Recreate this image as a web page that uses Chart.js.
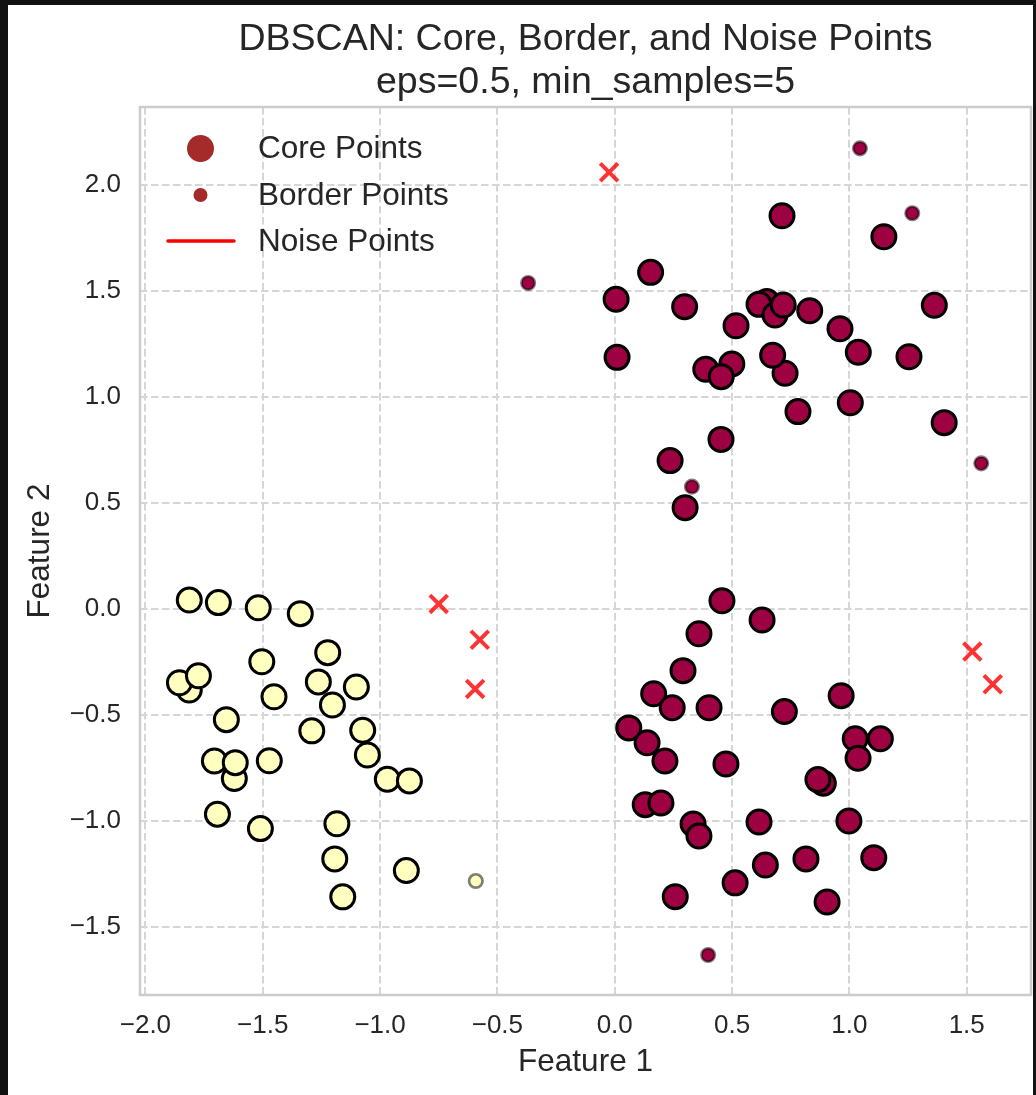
<!DOCTYPE html>
<html>
<head>
<meta charset="utf-8">
<script src="https://cdn.jsdelivr.net/npm/chart.js@4.4.1/dist/chart.umd.min.js"></script>
<style>
  html, body { margin: 0; padding: 0; background: #111; }
  #wrap { position: absolute; left: 0; top: 0; width: 1036px; height: 1095px; }
</style>
</head>
<body>
<div id="wrap"><canvas id="chart" width="1036" height="1095"></canvas></div>
<script>
// ---- data: DBSCAN result (Feature 1, Feature 2) ----
// cluster 0, core samples (upper and lower groups on the right)
const coreCluster0 = [
  [0.648, 1.450], [0.615, 1.437], [0.683, 1.387], [0.718, 1.434],
  [0.713, 1.855], [1.147, 1.756], [0.153, 1.588], [0.006, 1.461], [0.298, 1.426],
  [1.362, 1.433], [0.831, 1.407], [0.517, 1.336], [0.960, 1.322], [0.010, 1.187],
  [1.038, 1.211], [1.254, 1.190], [0.499, 1.156], [0.388, 1.131], [0.454, 1.096],
  [0.726, 1.112], [0.673, 1.197], [0.781, 0.931], [1.004, 0.973], [1.404, 0.879],
  [0.453, 0.800], [0.236, 0.700], [0.300, 0.478],
  [0.457, 0.039], [0.628, -0.052], [0.359, -0.117], [0.291, -0.291], [0.965, -0.409],
  [0.166, -0.400], [0.245, -0.466], [0.402, -0.466], [0.723, -0.484], [0.060, -0.561],
  [0.138, -0.631], [0.214, -0.717], [0.474, -0.731], [1.025, -0.612], [1.132, -0.612],
  [1.037, -0.704], [0.889, -0.822], [0.866, -0.805], [0.130, -0.923], [0.197, -0.915],
  [0.334, -1.014], [0.359, -1.071], [0.615, -1.005], [0.998, -1.000], [0.815, -1.179],
  [0.642, -1.208], [1.104, -1.173], [0.513, -1.292], [0.258, -1.357], [0.905, -1.382]
];
// cluster 0, border samples
const borderCluster0 = [
  [1.045, 2.173], [1.268, 1.867], [1.562, 0.687], [0.329, 0.577], [-0.369, 1.538], [0.398, -1.632]
];
// cluster 1, core samples (lower left)
const coreCluster1 = [
  [-1.813, 0.042], [-1.689, 0.030], [-1.519, 0.006], [-1.340, -0.022], [-1.223, -0.206],
  [-1.504, -0.249], [-1.813, -0.382], [-1.855, -0.348], [-1.774, -0.315], [-1.263, -0.344],
  [-1.101, -0.368], [-1.452, -0.414], [-1.203, -0.453], [-1.655, -0.522], [-1.291, -0.575],
  [-1.074, -0.572], [-1.054, -0.689], [-1.706, -0.717], [-1.621, -0.800], [-1.617, -0.725],
  [-1.472, -0.716], [-0.969, -0.803], [-0.875, -0.811], [-1.693, -0.968], [-1.510, -1.036],
  [-1.184, -1.013], [-1.193, -1.179], [-0.888, -1.234], [-1.159, -1.358]
];
// cluster 1, border samples
const borderCluster1 = [
  [-0.592, -1.283]
];
// noise samples (label -1)
const noisePoints = [
  [-0.024, 2.060], [-0.750, 0.024], [-0.575, -0.145], [-0.595, -0.377], [1.524, -0.201], [1.611, -0.355]
];

const xTickValues = [-2.0, -1.5, -1.0, -0.5, 0.0, 0.5, 1.0, 1.5];
const xTickLabels = ['\u22122.0', '\u22121.5', '\u22121.0', '\u22120.5', '0.0', '0.5', '1.0', '1.5'];
const yTickValues = [-1.5, -1.0, -0.5, 0.0, 0.5, 1.0, 1.5, 2.0];
const yTickLabels = ['\u22121.5', '\u22121.0', '\u22120.5', '0.0', '0.5', '1.0', '1.5', '2.0'];

const legendLabels = ['Core Points', 'Border Points', 'Noise Points'];
const titleLines = ['DBSCAN: Core, Border, and Noise Points', 'eps=0.5, min_samples=5'];

// ---- styling ----
const FONT = "'Liberation Sans', Arial, sans-serif";
const TEXT = '#262626';
const COLOR_C0 = '#9e0142';
const COLOR_C1 = '#ffffbf';
const NOISE = 'rgba(255, 0, 0, 0.8)';
const GRID = '#d6d6d6';
const SPINE = '#cccccc';

const toXY = arr => arr.map(([x, y]) => ({ x, y }));

// page background and white figure panel
const figurePanel = {
  id: 'figurePanel',
  beforeDraw(chart) {
    const { ctx, width, height } = chart;
    ctx.save();
    ctx.fillStyle = '#111111';
    ctx.fillRect(0, 0, width, height);
    ctx.fillStyle = '#ffffff';
    ctx.fillRect(8, 5, 1025, height - 5);
    ctx.restore();
  }
};

// axes frame (all four spines)
const spines = {
  id: 'spines',
  beforeDatasetsDraw(chart) {
    const { ctx, chartArea: a } = chart;
    ctx.save();
    ctx.strokeStyle = SPINE;
    ctx.lineWidth = 2.5;
    ctx.strokeRect(a.left, a.top, a.right - a.left, a.bottom - a.top);
    ctx.restore();
  }
};

// legend in the upper-left corner of the axes
const cornerLegend = {
  id: 'cornerLegend',
  afterDraw(chart) {
    const { ctx, chartArea: a } = chart;
    const mx = a.left + 60.5;
    const tx = a.left + 118;
    const rows = [a.top + 41.5, a.top + 88, a.top + 134];
    ctx.save();
    ctx.fillStyle = '#a52a2a';
    ctx.beginPath(); ctx.arc(mx, rows[0], 13.5, 0, Math.PI * 2); ctx.fill();
    ctx.beginPath(); ctx.arc(mx, rows[1], 7, 0, Math.PI * 2); ctx.fill();
    ctx.strokeStyle = '#ff0000';
    ctx.lineWidth = 3.5;
    ctx.lineCap = 'round';
    ctx.beginPath(); ctx.moveTo(a.left + 28, rows[2]); ctx.lineTo(a.left + 94, rows[2]); ctx.stroke();
    ctx.fillStyle = TEXT;
    ctx.font = '31.5px ' + FONT;
    ctx.textBaseline = 'middle';
    ctx.textAlign = 'left';
    legendLabels.forEach((t, i) => ctx.fillText(t, tx, rows[i] + 1));
    ctx.restore();
  }
};

const coreStyle = { pointStyle: 'circle', pointRadius: 12, borderWidth: 3, borderColor: '#000000' };
const borderStyle = { pointStyle: 'circle', pointRadius: 6.7, borderWidth: 2.7, borderColor: 'rgba(0,0,0,0.5)' };

new Chart(document.getElementById('chart'), {
  type: 'scatter',
  data: {
    datasets: [
      { label: 'core 0', data: toXY(coreCluster0), backgroundColor: COLOR_C0, ...coreStyle },
      { label: 'border 0', data: toXY(borderCluster0), backgroundColor: COLOR_C0, ...borderStyle },
      { label: 'core 1', data: toXY(coreCluster1), backgroundColor: COLOR_C1, ...coreStyle },
      { label: 'border 1', data: toXY(borderCluster1), backgroundColor: COLOR_C1, ...borderStyle },
      { label: 'noise', data: toXY(noisePoints), pointStyle: 'crossRot', pointRadius: 12.5,
        borderWidth: 4, borderColor: NOISE, backgroundColor: NOISE }
    ]
  },
  options: {
    responsive: false,
    animation: false,
    devicePixelRatio: 1,
    events: [],
    layout: { autoPadding: false, padding: { left: 0, right: 5, top: 5, bottom: 0 } },
    plugins: {
      legend: { display: false },
      tooltip: { enabled: false },
      title: {
        display: true,
        fullSize: false,
        text: titleLines,
        color: TEXT,
        font: { family: FONT, size: 37.5, weight: 'normal', lineHeight: '43px' },
        padding: { top: 13, bottom: 3 }
      }
    },
    scales: {
      x: {
        type: 'linear',
        min: -2.023,
        max: 1.774,
        afterBuildTicks: s => { s.ticks = xTickValues.map(v => ({ value: v })); },
        afterFit: s => { s.height = 100; },
        ticks: {
          color: TEXT,
          font: { family: FONT, size: 26 },
          padding: 15,
          maxRotation: 0,
          autoSkip: false,
          callback: v => xTickLabels[xTickValues.indexOf(v)]
        },
        grid: { color: GRID, lineWidth: 2, drawTicks: false },
        border: { display: false, dash: [7.5, 3.5] },
        title: {
          display: true,
          text: 'Feature 1',
          color: TEXT,
          font: { family: FONT, size: 31.5 },
          padding: { top: 0, bottom: 14 }
        }
      },
      y: {
        type: 'linear',
        min: -1.821,
        max: 2.368,
        afterBuildTicks: s => { s.ticks = yTickValues.map(v => ({ value: v })); },
        afterFit: s => { s.width = 140; },
        ticks: {
          color: TEXT,
          font: { family: FONT, size: 26 },
          padding: 19,
          autoSkip: false,
          callback: v => yTickLabels[yTickValues.indexOf(v)]
        },
        grid: { color: GRID, lineWidth: 2, drawTicks: false },
        border: { display: false, dash: [7.5, 3.5] },
        title: {
          display: true,
          text: 'Feature 2',
          color: TEXT,
          font: { family: FONT, size: 31.5 },
          padding: { top: 21, bottom: 0 }
        }
      }
    }
  },
  plugins: [figurePanel, spines, cornerLegend]
});
</script>
</body>
</html>
